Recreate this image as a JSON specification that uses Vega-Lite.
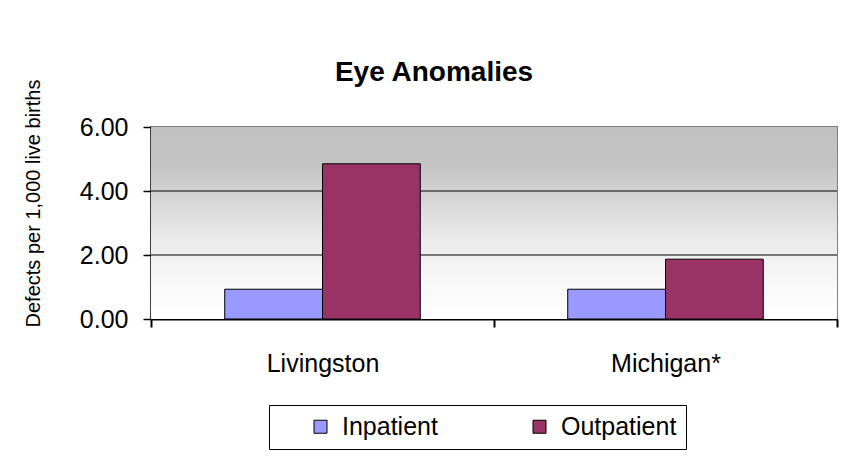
{
  "$schema": "https://vega.github.io/schema/vega-lite/v6.json",
  "width": 686,
  "height": 192,
  "autosize": {"type": "none"},
  "padding": {"left": 151, "top": 127, "right": 10, "bottom": 142},
  "background": "white",
  "title": {
    "text": "Eye Anomalies",
    "font": "Liberation Sans",
    "fontSize": 28,
    "fontWeight": "bold",
    "color": "black",
    "anchor": "middle",
    "dx": -60,
    "offset": -8
  },
  "layer": [
    {
      "data": {"values": [{}]},
      "mark": {
        "type": "rect",
        "fill": {
          "gradient": "linear",
          "x1": 0, "y1": 0, "x2": 0, "y2": 1,
          "stops": [
            {"offset": 0, "color": "#c0c0c0"},
            {"offset": 0.2, "color": "#c4c4c4"},
            {"offset": 0.4, "color": "#d8d8d8"},
            {"offset": 0.6, "color": "#ececec"},
            {"offset": 0.78, "color": "#f7f7f7"},
            {"offset": 1, "color": "#ffffff"}
          ]
        }
      },
      "encoding": {
        "x": {"value": 0},
        "x2": {"value": "width"},
        "y": {"datum": 6, "type": "quantitative"},
        "y2": {"datum": 0}
      }
    },
    {
      "data": {"values": [{"g": 2}, {"g": 4}]},
      "mark": {"type": "rule", "color": "black", "strokeWidth": 1},
      "encoding": {
        "y": {"field": "g", "type": "quantitative"}
      }
    },
    {
      "data": {
        "values": [
          {"region": "Livingston", "type": "Inpatient", "rate": 0.93},
          {"region": "Livingston", "type": "Outpatient", "rate": 4.85},
          {"region": "Michigan*", "type": "Inpatient", "rate": 0.93},
          {"region": "Michigan*", "type": "Outpatient", "rate": 1.87}
        ]
      },
      "mark": {"type": "bar", "stroke": "black", "strokeWidth": 1},
      "encoding": {
        "x": {
          "field": "region",
          "type": "nominal",
          "sort": null,
          "scale": {"paddingInner": 0, "paddingOuter": 0},
          "axis": {
            "title": null,
            "labelAngle": 0,
            "tickBand": "extent",
            "domainColor": "black",
            "domainWidth": 2,
            "tickColor": "black",
            "tickWidth": 2,
            "tickSize": 8,
            "labelFontSize": 25,
            "labelColor": "black",
            "labelPadding": 24
          }
        },
        "xOffset": {
          "field": "type",
          "type": "nominal",
          "sort": ["Inpatient", "Outpatient"],
          "scale": {"paddingInner": 0, "paddingOuter": 0.754}
        },
        "y": {
          "field": "rate",
          "type": "quantitative",
          "scale": {"domain": [0, 6], "nice": false},
          "axis": {
            "values": [0, 2, 4, 6],
            "format": ".2f",
            "title": "Defects per 1,000 live births",
            "titleFontSize": 20,
            "titleFontWeight": "normal",
            "titleColor": "black",
            "titlePadding": 36,
            "titleY": 76,
            "labelFontSize": 25,
            "labelColor": "black",
            "labelPadding": 15,
            "tickSize": 8,
            "tickColor": "black",
            "tickWidth": 1.5,
            "domainColor": "black",
            "domainWidth": 2,
            "grid": false
          }
        },
        "color": {
          "field": "type",
          "type": "nominal",
          "scale": {"domain": ["Inpatient", "Outpatient"], "range": ["#9999ff", "#993366"]},
          "legend": {
            "title": null,
            "orient": "none",
            "legendX": 118,
            "legendY": 278,
            "direction": "horizontal",
            "strokeColor": "black",
            "fillColor": "white",
            "padding": 9,
            "symbolType": "square",
            "symbolSize": 169,
            "symbolStrokeColor": "black",
            "symbolStrokeWidth": 1,
            "symbolOpacity": 1,
            "symbolOffset": 30,
            "labelFontSize": 25,
            "labelColor": "black",
            "labelOffset": 9,
            "columnPadding": 59,
            "labelExpr": "datum.label + '\u00a0\u00a0\u00a0'"
          }
        }
      }
    }
  ],
  "config": {
    "font": "Liberation Sans",
    "view": {"stroke": "#808080", "strokeWidth": 2}
  }
}
